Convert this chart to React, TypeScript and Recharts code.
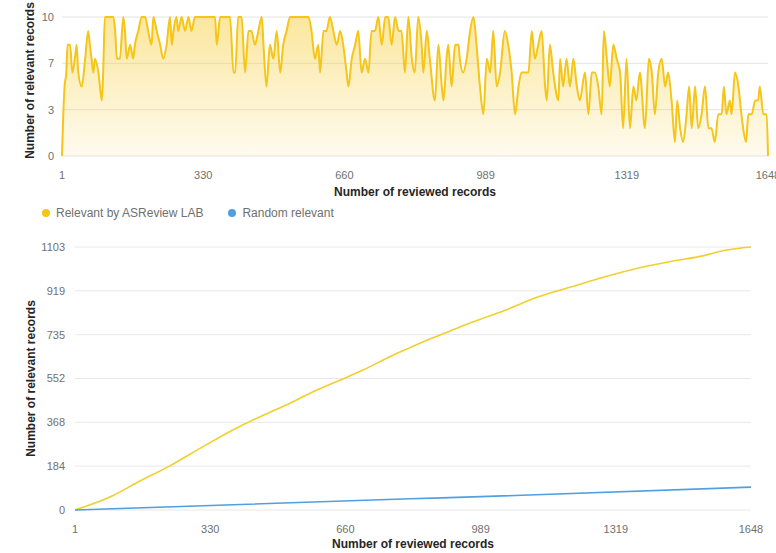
import React from 'react';
import { AreaChart, Area, LineChart, Line, XAxis, YAxis, CartesianGrid } from 'recharts';

// relevant records found inside the moving window
const windowAt = [
  1, 4, 7, 11, 14, 20, 25, 31, 35, 39, 47, 55, 62, 66, 70, 74, 78, 86, 94, 97,
  101, 113, 121, 125, 129, 136, 144, 148, 152, 160, 167, 171, 179, 187, 195, 202, 210, 214, 222, 230,
  237, 245, 253, 257, 261, 268, 272, 280, 288, 296, 303, 311, 335, 358, 362, 370, 393, 401, 405, 412,
  420, 428, 436, 443, 451, 459, 467, 471, 478, 486, 494, 502, 510, 517, 525, 533, 548, 564, 576, 583,
  591, 599, 603, 611, 618, 626, 634, 642, 650, 657, 665, 669, 677, 685, 692, 700, 708, 716, 723, 731,
  739, 747, 755, 762, 770, 778, 786, 793, 801, 809, 817, 824, 832, 840, 844, 852, 859, 871, 879, 887,
  891, 898, 902, 910, 918, 926, 929, 937, 945, 953, 961, 968, 976, 984, 992, 1000, 1007, 1015, 1023, 1034,
  1042, 1050, 1058, 1066, 1073, 1081, 1089, 1097, 1104, 1112, 1120, 1128, 1132, 1139, 1147, 1159, 1163, 1170, 1178, 1186,
  1194, 1202, 1209, 1221, 1229, 1237, 1244, 1252, 1260, 1265, 1272, 1279, 1287, 1295, 1303, 1310, 1318, 1326, 1334, 1341,
  1349, 1361, 1370, 1377, 1384, 1392, 1400, 1408, 1415, 1423, 1431, 1436, 1443, 1450, 1458, 1464, 1470, 1478, 1485, 1493,
  1501, 1509, 1516, 1524, 1532, 1540, 1545, 1551, 1559, 1563, 1571, 1579, 1586, 1590, 1597, 1602, 1610, 1618, 1625, 1629,
  1637, 1645, 1648,
];
const windowCount = [
  0, 3, 5, 6, 8, 8, 6, 7, 8, 6, 5, 7, 9, 8, 7, 6, 7, 6, 4, 6,
  10, 10, 10, 9, 7, 7, 10, 9, 7, 8, 7, 8, 9, 10, 10, 9, 8, 10, 9, 8,
  7, 8, 10, 8, 9, 10, 9, 10, 9, 10, 9, 10, 10, 10, 8, 10, 10, 6, 6, 10,
  10, 6, 9, 9, 8, 9, 10, 8, 5, 8, 7, 9, 6, 8, 9, 10, 10, 10, 10, 9,
  7, 8, 6, 9, 9, 10, 9, 8, 9, 8, 6, 5, 7, 8, 9, 6, 7, 6, 9, 9,
  10, 8, 10, 10, 8, 10, 9, 9, 6, 10, 7, 6, 10, 8, 6, 9, 7, 4, 8, 5,
  4, 7, 8, 5, 8, 8, 7, 6, 7, 9, 10, 8, 5, 3, 7, 6, 9, 5, 6, 9,
  8, 6, 3, 5, 6, 6, 6, 9, 7, 8, 9, 5, 4, 8, 6, 4, 7, 5, 7, 5,
  7, 5, 4, 6, 3, 6, 6, 5, 3, 9, 7, 5, 8, 7, 6, 2, 7, 2, 5, 4,
  6, 2, 7, 6, 3, 6, 7, 5, 6, 4, 1, 4, 2, 1, 3, 5, 2, 5, 2, 3,
  5, 2, 2, 1, 3, 3, 5, 3, 4, 3, 6, 5, 3, 2, 1, 3, 3, 4, 4, 5,
  3, 3, 0,
];

// cumulative curves of the bottom panel
const foundAt = [1, 94, 151, 232, 314, 395, 476, 517, 574, 639, 704, 769, 817, 854, 911, 968, 1049, 1130, 1211, 1292, 1374, 1455, 1536, 1585, 1648];
const foundRelevant = [0, 61, 114, 185, 267, 344, 410, 441, 490, 539, 588, 644, 681, 709, 748, 787, 838, 894, 936, 978, 1015, 1043, 1068, 1089, 1103];
const randomAt = [1, 817, 989, 1648];
const randomRelevant = [0, 47, 56, 96];

const recordTicks = [1, 330.4, 659.8, 989.2, 1318.6, 1648];
const windowTicks = [0, 3.333, 6.667, 10];
const relevantTicks = [0, 183.83, 367.67, 551.5, 735.33, 919.17, 1103];

const seriesNames = ['Relevant by ASReview LAB', 'Random relevant'];
const YELLOW = '#F5C518';
const LINE_YELLOW = '#F0CF2E';
const BLUE = '#4F9FE3';
const seriesColors = [YELLOW, BLUE];

const windowData = windowAt.map((r, i) => ({ records: r, count: windowCount[i] }));
const foundData = foundAt.map((r, i) => ({ records: r, relevant: foundRelevant[i] }));
const randomData = randomAt.map((r, i) => ({ records: r, relevant: randomRelevant[i] }));

const FONT = 'Helvetica, Arial, "Liberation Sans", sans-serif';
const tickStyle = { fontSize: 11, fill: '#707070', fontFamily: FONT };
const titleProps = { fontSize: 12, fontWeight: 700, fill: '#262626', fontFamily: FONT };
const round = (v: number) => String(Math.round(v));

export default function App() {
  return (
    <div style={{ position: 'absolute', left: 0, top: 0, width: 776, height: 553, background: '#fff', fontFamily: FONT }}>
      <div style={{ position: 'absolute', left: 0, top: 0 }}>
        <AreaChart width={776} height={200} data={windowData} margin={{ top: 17, right: 8, bottom: 0, left: 0 }}>
          <defs>
            <linearGradient id="windowFill" x1="0" y1="0" x2="0" y2="1">
              <stop offset="0%" stopColor={YELLOW} stopOpacity={0.42} />
              <stop offset="100%" stopColor={YELLOW} stopOpacity={0.07} />
            </linearGradient>
          </defs>
          <CartesianGrid vertical={false} stroke="#e4e4e4" />
          <XAxis
            type="number"
            dataKey="records"
            domain={[1, 1648]}
            ticks={recordTicks}
            tickFormatter={round}
            interval={0}
            height={44}
            axisLine={false}
            tickLine={false}
            tickMargin={9}
            tick={tickStyle}
            label={{ value: 'Number of reviewed records', position: 'insideBottom', offset: 4, ...titleProps }}
          />
          <YAxis
            type="number"
            domain={[0, 10]}
            ticks={windowTicks}
            tickFormatter={round}
            interval={0}
            width={62}
            axisLine={false}
            tickLine={false}
            tick={tickStyle}
            label={{ value: 'Number of relevant records', angle: -90, position: 'center', dx: -1, dy: -6, ...titleProps }}
          />
          <Area
            type="monotone"
            dataKey="count"
            stroke={YELLOW}
            strokeWidth={2}
            fill="url(#windowFill)"
            fillOpacity={1}
            dot={false}
            activeDot={false}
            isAnimationActive={false}
          />
        </AreaChart>
      </div>

      <div style={{ position: 'absolute', left: 42, top: 206, display: 'flex', alignItems: 'center', height: 14 }}>
        {seriesNames.map((name, i) => (
          <div key={name} style={{ display: 'flex', alignItems: 'center', marginRight: 25 }}>
            <span style={{ width: 8, height: 8, borderRadius: '50%', background: seriesColors[i], marginRight: 6, display: 'inline-block' }} />
            <span style={{ fontSize: 12, color: '#707070', lineHeight: '14px' }}>{name}</span>
          </div>
        ))}
      </div>

      <div style={{ position: 'absolute', left: 0, top: 200 }}>
        <LineChart width={776} height={353} margin={{ top: 47, right: 25, bottom: 0, left: 0 }}>
          <CartesianGrid vertical={false} stroke="#e8e8e8" />
          <XAxis
            type="number"
            dataKey="records"
            domain={[1, 1648]}
            ticks={recordTicks}
            tickFormatter={round}
            interval={0}
            height={43}
            axisLine={false}
            tickLine={false}
            tickMargin={9}
            tick={tickStyle}
            label={{ value: 'Number of reviewed records', position: 'insideBottom', offset: 5, ...titleProps }}
          />
          <YAxis
            type="number"
            domain={[0, 1103]}
            ticks={relevantTicks}
            tickFormatter={round}
            interval={0}
            width={75}
            axisLine={false}
            tickLine={false}
            tickMargin={4}
            tick={tickStyle}
            label={{ value: 'Number of relevant records', angle: -90, position: 'center', dx: -7, ...titleProps }}
          />
          <Line
            data={foundData}
            type="monotone"
            dataKey="relevant"
            name={seriesNames[0]}
            stroke={LINE_YELLOW}
            strokeWidth={1.6}
            dot={false}
            activeDot={false}
            isAnimationActive={false}
          />
          <Line
            data={randomData}
            type="monotone"
            dataKey="relevant"
            name={seriesNames[1]}
            stroke={BLUE}
            strokeWidth={1.6}
            dot={false}
            activeDot={false}
            isAnimationActive={false}
          />
        </LineChart>
      </div>
    </div>
  );
}
